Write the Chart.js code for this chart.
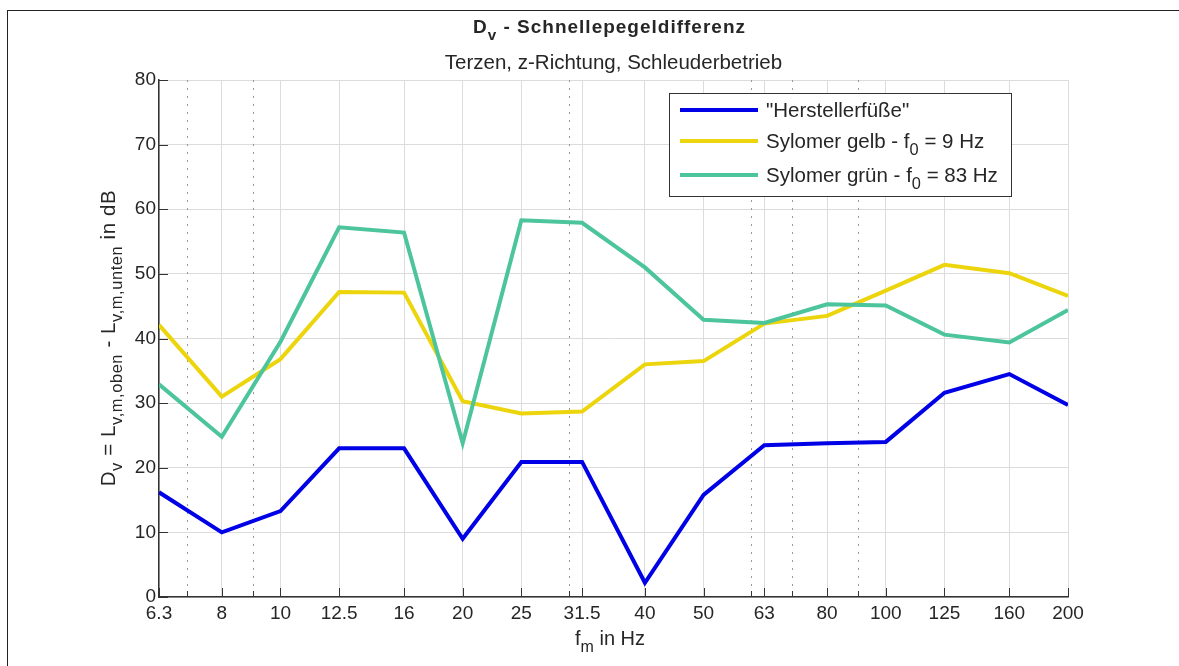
<!DOCTYPE html>
<html>
<head>
<meta charset="utf-8">
<script src="https://cdn.jsdelivr.net/npm/chart.js@4/dist/chart.umd.min.js"></script>
<style>
body { margin: 0; background: #fff; font-family: 'Liberation Sans', Arial, sans-serif; color: #262626; }
#wrap { position: relative; width: 1179px; height: 666px; overflow: hidden; }
#frame { position: absolute; left: 7px; top: 10px; width: 1200px; height: 700px; border-top: 1.5px solid #222; border-left: 1.5px solid #222; }
canvas { position: absolute; left: 0; top: 0; }
.title { position: absolute; left: 159px; width: 909px; text-align: center; white-space: nowrap; }
#t1 { top: 16px; left: 155px; font-weight: bold; font-size: 19px; letter-spacing: 1px; line-height: 22px; }
#t2 { top: 51px; font-size: 20.5px; line-height: 22px; }
sub { font-size: 0.8em; vertical-align: -0.45em; line-height: 0; }
#ylab { position: absolute; left: 108px; top: 338px; transform: translate(-50%, -50%) rotate(-90deg); white-space: nowrap; font-size: 20.5px; letter-spacing: 0.6px; line-height: 20px; }
#xlab { position: absolute; left: 610px; top: 628px; transform: translateX(-50%); white-space: nowrap; font-size: 20px; line-height: 20px; }
#legend { position: absolute; left: 669px; top: 93px; width: 343px; height: 104px; border: 1px solid #333; background: #fff; box-sizing: border-box; }
.li { position: absolute; left: 0; width: 100%; height: 24px; }
.sw { position: absolute; left: 10px; top: 10px; width: 78px; height: 4px; }
.lt { position: absolute; left: 96px; top: 0; line-height: 24px; font-size: 20.5px; white-space: nowrap; }
</style>
</head>
<body>
<div id="wrap">
  <canvas id="chart" width="1179" height="666"></canvas>
  <div id="frame"></div>
  <div class="title" id="t1">D<sub>v</sub> - Schnellepegeldifferenz</div>
  <div class="title" id="t2">Terzen, z-Richtung, Schleuderbetrieb</div>
  <div id="ylab">D<sub>v</sub> = L<sub>v,m,oben</sub> - L<sub>v,m,unten</sub> in dB</div>
  <div id="xlab">f<sub>m</sub> in Hz</div>
  <div id="legend"></div>
</div>
<script>
// third-octave centre frequencies (Hz)
const freqs = [6.3, 8, 10, 12.5, 16, 20, 25, 31.5, 40, 50, 63, 80, 100, 125, 160, 200];
const minorFreqs = [7, 9, 30, 60, 70, 90];
const yTicks = [0, 10, 20, 30, 40, 50, 60, 70, 80];

// D_v in dB
const herstellerfuesse = [16.2, 10.0, 13.3, 23.0, 23.0, 9.0, 20.9, 20.9, 2.2, 15.8, 23.5, 23.8, 24.0, 31.6, 34.5, 29.7];
const sylomerGelb = [42.1, 31.0, 36.8, 47.2, 47.1, 30.3, 28.4, 28.7, 36.0, 36.5, 42.3, 43.5, 47.4, 51.4, 50.1, 46.6];
const sylomerGruen = [32.9, 24.8, 39.5, 57.2, 56.4, 23.8, 58.3, 57.9, 51.0, 42.9, 42.4, 45.3, 45.1, 40.6, 39.4, 44.4];

const seriesNames = ['"Herstellerfüße"', 'Sylomer gelb - f<sub>0</sub> = 9 Hz', 'Sylomer grün - f<sub>0</sub> = 83 Hz'];
const seriesColors = ['#0000e6', '#ecd50c', '#4cc49c'];

const toPoints = vals => vals.map((v, i) => ({ x: freqs[i], y: v }));

// legend as html so the f0 subscript works
const legendEl = document.getElementById('legend');
const rowCenters = [16, 47, 81];
seriesNames.forEach((name, i) => {
    const row = document.createElement('div');
    row.className = 'li';
    row.style.top = (rowCenters[i] - 12) + 'px';
    row.innerHTML = `<span class="sw" style="background:${seriesColors[i]}"></span><span class="lt">${name}</span>`;
    legendEl.appendChild(row);
});

// dotted minor grid + MATLAB style inward ticks
const minorGrid = {
    id: 'minorGrid',
    beforeDatasetsDraw(chart) {
        const { ctx, chartArea: a, scales: { x, y } } = chart;
        ctx.save();
        ctx.lineWidth = 1;
        ctx.strokeStyle = '#9a9a9a';
        ctx.setLineDash([2, 6]);
        minorFreqs.forEach(f => {
            const px = Math.round(x.getPixelForValue(f)) + 0.5;
            ctx.beginPath();
            ctx.moveTo(px, a.top);
            ctx.lineTo(px, a.bottom);
            ctx.stroke();
        });
        ctx.setLineDash([]);
        ctx.strokeStyle = '#333';
        const tick = (x0, y0, x1, y1) => { ctx.beginPath(); ctx.moveTo(x0, y0); ctx.lineTo(x1, y1); ctx.stroke(); };
        freqs.forEach(f => {
            const px = Math.round(x.getPixelForValue(f)) + 0.5;
            tick(px, a.bottom, px, a.bottom - 9);
        });
        minorFreqs.forEach(f => {
            const px = Math.round(x.getPixelForValue(f)) + 0.5;
            tick(px, a.bottom, px, a.bottom - 6);
        });
        yTicks.forEach(v => {
            const py = Math.round(y.getPixelForValue(v)) + 0.5;
            tick(a.left, py, a.left + 9, py);
        });
        ctx.restore();
    }
};

Chart.defaults.font.family = "'Liberation Sans', Arial, sans-serif";
Chart.defaults.color = '#262626';

new Chart(document.getElementById('chart'), {
    type: 'line',
    data: {
        datasets: [
            { label: 'Herstellerfüße', data: toPoints(herstellerfuesse), borderColor: seriesColors[0], order: 2 },
            { label: 'Sylomer gelb', data: toPoints(sylomerGelb), borderColor: seriesColors[1], order: 1 },
            { label: 'Sylomer grün', data: toPoints(sylomerGruen), borderColor: seriesColors[2], order: 0 }
        ]
    },
    options: {
        responsive: false,
        animation: false,
        devicePixelRatio: 1,
        layout: { padding: { left: 0, top: 80, right: 111, bottom: 0 } },
        elements: {
            line: { borderWidth: 4, tension: 0, fill: false },
            point: { radius: 0 }
        },
        scales: {
            x: {
                type: 'logarithmic',
                min: 6.3,
                max: 200,
                afterBuildTicks(scale) { scale.ticks = freqs.map(v => ({ value: v })); },
                afterFit(scale) { scale.height = 69; },
                grid: { color: '#dcdcdc', drawTicks: false },
                border: { color: '#333', width: 1.5 },
                ticks: {
                    autoSkip: false, maxRotation: 0, padding: 5,
                    font: { size: 19 },
                    callback: v => String(v)
                }
            },
            y: {
                min: 0,
                max: 80,
                afterFit(scale) { scale.width = 159; },
                grid: { color: '#dcdcdc', drawTicks: false },
                border: { color: '#333', width: 1.5 },
                ticks: { stepSize: 10, padding: 3, font: { size: 19 } }
            }
        },
        plugins: {
            legend: { display: false },
            title: { display: false },
            tooltip: { enabled: false }
        }
    },
    plugins: [minorGrid]
});
</script>
</body>
</html>
